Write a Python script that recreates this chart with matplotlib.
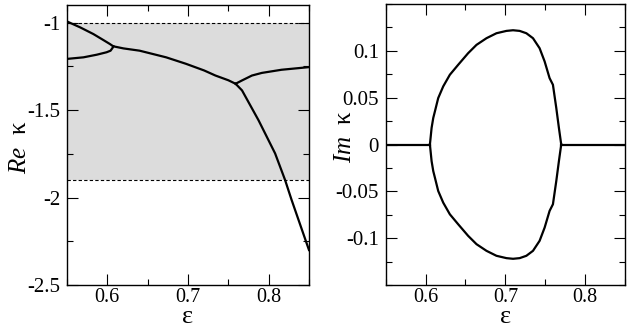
import numpy as np
import matplotlib
matplotlib.use("Agg")
import matplotlib.pyplot as plt
from matplotlib.ticker import MultipleLocator

plt.rcParams['font.family'] = ['Liberation Serif', 'DejaVu Serif']
plt.rcParams['mathtext.fontset'] = 'custom'
plt.rcParams['mathtext.rm'] = 'Liberation Serif'
plt.rcParams['mathtext.it'] = 'Liberation Serif:italic'

# Re kappa, branches
eps_a = [0.550, 0.5664, 0.5827, 0.595, 0.6032, 0.6073]
re_a = [-0.994, -1.028, -1.066, -1.100, -1.123, -1.136]
eps_b = [0.550, 0.5704, 0.5869, 0.5991, 0.604, 0.6065, 0.6073]
re_b = [-1.208, -1.199, -1.184, -1.170, -1.161, -1.145, -1.136]
eps_c = [0.6073, 0.620, 0.640, 0.6729, 0.6975, 0.720, 0.734, 0.750, 0.759]
re_c = [-1.136, -1.148, -1.161, -1.199, -1.236, -1.274, -1.303, -1.330, -1.350]
eps_d = [0.759, 0.767, 0.7793, 0.7916, 0.816, 0.850]
re_d = [-1.350, -1.331, -1.303, -1.288, -1.270, -1.255]
eps_e = [0.759, 0.767, 0.7875, 0.808, 0.8203, 0.8284, 0.850]
re_e = [-1.350, -1.388, -1.559, -1.748, -1.899, -2.013, -2.300]

# Im kappa
eps_z1 = [0.550, 0.6054]
eps_z2 = [0.770, 0.850]
eps_loop = [0.6054, 0.6075, 0.6096, 0.6117, 0.6158, 0.6221, 0.6304, 0.6408,
            0.6533, 0.6638, 0.6763, 0.6888, 0.7013, 0.7096, 0.7179, 0.7263,
            0.7346, 0.7429, 0.7492, 0.7554, 0.7596, 0.7638, 0.7671, 0.7700]
im_loop = [0.0, 0.0177, 0.0284, 0.0355, 0.0496, 0.0621, 0.0745, 0.0851,
           0.0975, 0.1064, 0.1135, 0.1188, 0.1213, 0.1220, 0.1213, 0.1188,
           0.1135, 0.1028, 0.0887, 0.0709, 0.0638, 0.0390, 0.0177, 0.0]

fig = plt.figure(figsize=(6.28, 3.27), dpi=100)
ax1 = fig.add_axes([0.1067, 0.1284, 0.3853, 0.8563])
ax2 = fig.add_axes([0.6142, 0.1284, 0.3811, 0.8593])

lw = 1.6
ax1.axhspan(-1.9, -1.0, color='#dcdcdc', lw=0, zorder=0)
ax1.axhline(-1.0, color='k', ls=(0, (3, 2)), lw=0.8)
ax1.axhline(-1.9, color='k', ls=(0, (3, 2)), lw=0.8)
for x, y in [(eps_a, re_a), (eps_b, re_b), (eps_c, re_c), (eps_d, re_d), (eps_e, re_e)]:
    ax1.plot(x, y, color='k', lw=lw, solid_joinstyle='round')
ax1.set_xlim(0.55, 0.85)
ax1.set_ylim(-2.5, -0.9)
ax1.yaxis.set_minor_locator(MultipleLocator(0.25))
ax1.set_yticks([-2.5, -2, -1.5, -1])
ax1.set_yticklabels(['-2.5', '-2', '-1.5', '-1'])
ax1.set_ylabel(r'$\mathit{Re}$  κ', fontsize=18)
ax1.yaxis.set_label_coords(-0.15, 0.49)

ax2.plot(eps_z1, [0, 0], color='k', lw=lw)
ax2.plot(eps_z2, [0, 0], color='k', lw=lw)
ax2.plot(eps_loop, im_loop, color='k', lw=lw, solid_joinstyle='round')
ax2.plot(eps_loop, [-v for v in im_loop], color='k', lw=lw, solid_joinstyle='round')
ax2.set_xlim(0.55, 0.85)
ax2.set_ylim(-0.15, 0.15)
ax2.set_yticks([-0.1, -0.05, 0, 0.05, 0.1])
ax2.set_yticklabels(['-0.1', '-0.05', '0', '0.05', '0.1'])
ax2.yaxis.set_minor_locator(MultipleLocator(0.025))
ax2.set_ylabel(r'$\mathit{Im}$  κ', fontsize=18)
ax2.yaxis.set_label_coords(-0.125, 0.53)

for ax in (ax1, ax2):
    ax.set_xticks([0.6, 0.7, 0.8])
    ax.set_xticklabels(['0.6', '0.7', '0.8'])
    ax.xaxis.set_minor_locator(MultipleLocator(0.05))
    ax.set_xlabel('ε', fontsize=19)
    ax.xaxis.set_label_coords(0.5, -0.076)
    ax.tick_params(which='both', direction='in', top=True, right=True,
                   labelsize=15, width=0.8)
    ax.tick_params(axis='x', pad=2, labelsize=14.5)
    ax.tick_params(axis='y', pad=5)
    ax.tick_params(which='major', length=8)
    ax.tick_params(which='minor', length=4)
    for s in ax.spines.values():
        s.set_linewidth(1.0)

fig.savefig('out.png', dpi=100)
